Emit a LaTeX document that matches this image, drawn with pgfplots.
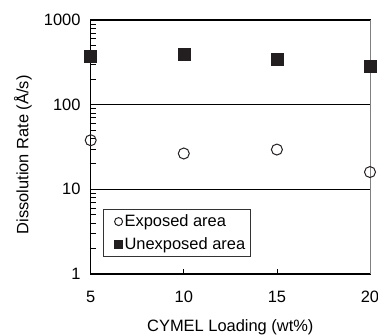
\documentclass[border=0pt]{standalone}
\usepackage{fontspec}
\setmainfont{Liberation Sans}
\usepackage{pgfplots}
\pgfplotsset{compat=1.18}
\definecolor{ink}{HTML}{231F20}
\begin{document}
\begin{tikzpicture}
\begin{axis}[
  scale only axis, width=279.3bp, height=254bp,
  xmin=5, xmax=20, ymode=log, ymin=1, ymax=1000,
  xtick={5,10,15,20},
  ytick={1,10,100,1000}, yticklabels={1,10,100,1000},
  tick pos=left, tick align=inside,
  major tick length=5bp, minor tick length=5bp,
  tick style={black, line width=0.7bp},
  ymajorgrids, grid style={black, line width=0.8bp},
  axis line style={black, line width=1bp},
  clip=false,
  font=\fontsize{16.5}{19}\selectfont,
  /pgf/number format/assume math mode=true,
  xticklabel style={inner sep=0pt, anchor=north, yshift=-17bp},
  yticklabel style={inner sep=0pt, anchor=east, xshift=-10bp},
  xlabel={CYMEL Loading (wt\%)},
  ylabel={Dissolution Rate (Å/s)},
  xlabel style={at={(axis description cs:0.5,0)}, anchor=center, yshift=-53bp},
  ylabel style={at={(axis description cs:0,0.469)}, anchor=center, rotate=0, yshift=67.7bp},
  legend style={at={(axis description cs:0.044,0.067)}, anchor=south west,
    draw=black!80, line width=0.6bp, inner xsep=3bp, inner ysep=4bp, row sep=5bp,
    font=\fontsize{16.5}{19}\selectfont, cells={anchor=west, inner xsep=2bp},
    /tikz/every odd column/.append style={column sep=0bp}},
  legend image code/.code={\path (0bp,0bp); \draw[#1, mark size=4bp] plot coordinates {(12bp,0bp)};},
]
\draw[black, line width=1.2bp] (rel axis cs:0,1) -- (rel axis cs:1,1);
\draw[gray, line width=1bp] (rel axis cs:1,0) -- (rel axis cs:1,1);
\draw[black, line width=1.6bp] (rel axis cs:0,0) -- (rel axis cs:1,0);
\addplot[only marks, mark=o, mark size=5.5bp, mark options={draw=ink, fill=white, line width=1bp}]
  coordinates {(5,38) (10,26.5) (15,29.5) (20,16)};
\addlegendentry{Exposed area}
\addplot[only marks, mark=square*, mark size=6bp, mark options={draw=ink, fill=ink}]
  coordinates {(5,376) (10,394) (15,340) (20,284)};
\addlegendentry{Unexposed area}
\end{axis}
\pgfresetboundingbox
\path[use as bounding box] (-90.7bp,-62bp) rectangle (287.3bp,274bp);
\end{tikzpicture}
\end{document}
